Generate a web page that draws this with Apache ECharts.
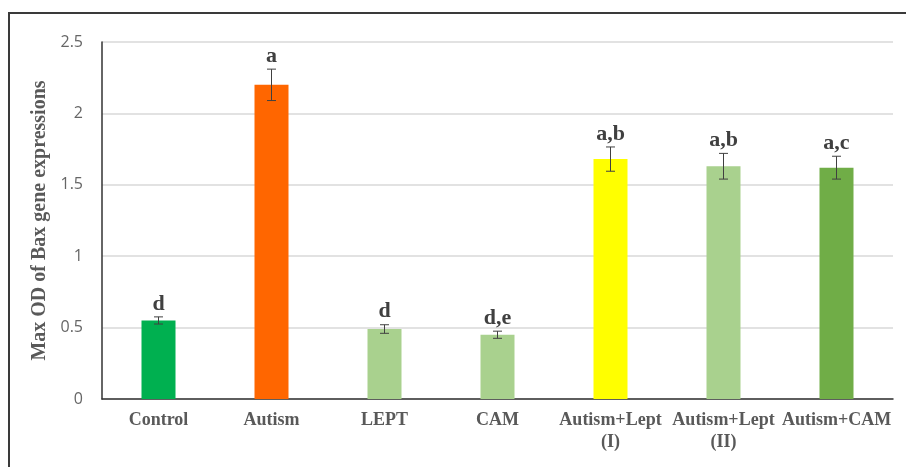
<!DOCTYPE html>
<html>
<head>
<meta charset="utf-8">
<script src="https://cdn.jsdelivr.net/npm/echarts@6/dist/echarts.min.js"></script>
<style>
  html, body { margin: 0; padding: 0; background: #fff; }
  #chart { width: 906px; height: 467px; }
</style>
</head>
<body>
<div id="chart"></div>
<script>
// Groups, mean Bax expression, error half-width and significance letters
const categories = ['Control', 'Autism', 'LEPT', 'CAM', 'Autism+Lept\n(I)', 'Autism+Lept\n(II)', 'Autism+CAM'];
const means = [0.55, 2.20, 0.49, 0.45, 1.68, 1.63, 1.62];
const errors = [0.025, 0.11, 0.03, 0.025, 0.085, 0.09, 0.08];
const letters = ['d', 'a', 'd', 'd,e', 'a,b', 'a,b', 'a,c'];
const barColors = ['#00B050', '#FF6600', '#A9D18E', '#A9D18E', '#FFFF00', '#A9D18E', '#70AD47'];
const yTicks = [0, 0.5, 1, 1.5, 2, 2.5];

const chart = echarts.init(document.getElementById('chart'));

const serif = '"Liberation Serif", "DejaVu Serif", serif';

chart.setOption({
  animation: false,
  backgroundColor: '#fff',
  graphic: [{
    type: 'rect',
    shape: { x: 9, y: 13, width: 1000, height: 1000 },
    style: { fill: 'none', stroke: '#3a3a3a', lineWidth: 2 },
    silent: true
  }],
  grid: { left: 102, right: 13, top: 42, bottom: 68 },
  xAxis: {
    type: 'category',
    data: categories,
    axisTick: { show: false },
    axisLine: { lineStyle: { color: '#333', width: 1.5 } },
    axisLabel: {
      interval: 0,
      margin: 10,
      color: '#595959',
      fontFamily: serif,
      fontWeight: 'bold',
      fontSize: 18,
      lineHeight: 22
    }
  },
  yAxis: {
    type: 'value',
    min: yTicks[0],
    max: yTicks[yTicks.length - 1],
    interval: 0.5,
    name: 'Max OD of Bax gene expressions',
    nameLocation: 'middle',
    nameGap: 47,
    nameTextStyle: { color: '#595959', fontFamily: serif, fontWeight: 'bold', fontSize: 20 },
    axisLine: { show: true, lineStyle: { color: '#333', width: 1.5 } },
    axisTick: { show: false },
    axisLabel: {
      margin: 19,
      color: '#666',
      fontFamily: '"Open Sans", "Noto Sans", sans-serif',
      fontSize: 16
    },
    splitLine: { lineStyle: { color: '#d9d9d9', width: 1.5 } }
  },
  series: [
    {
      type: 'bar',
      barWidth: 34,
      data: means.map((v, i) => ({ value: v, itemStyle: { color: barColors[i] } })),
      z: 2
    },
    {
      type: 'custom',
      z: 5,
      data: means.map((v, i) => [i, v, errors[i], letters[i]]),
      renderItem: function (params, api) {
        const i = api.value(0);
        const m = api.value(1);
        const e = api.value(2);
        const top = api.coord([i, m + e]);
        const bot = api.coord([i, m - e]);
        const x = top[0];
        const half = 4.5;
        const line = { stroke: '#404040', lineWidth: 1 };
        return {
          type: 'group',
          children: [
            { type: 'line', shape: { x1: x, y1: top[1], x2: x, y2: bot[1] }, style: line },
            { type: 'line', shape: { x1: x - half, y1: top[1], x2: x + half, y2: top[1] }, style: line },
            { type: 'line', shape: { x1: x - half, y1: bot[1], x2: x + half, y2: bot[1] }, style: line },
            {
              type: 'text',
              style: {
                text: letters[i],
                x: x,
                y: top[1] - 2,
                align: 'center',
                verticalAlign: 'bottom',
                fill: '#404040',
                font: 'bold 22px ' + serif
              }
            }
          ]
        };
      }
    }
  ]
});
</script>
</body>
</html>
